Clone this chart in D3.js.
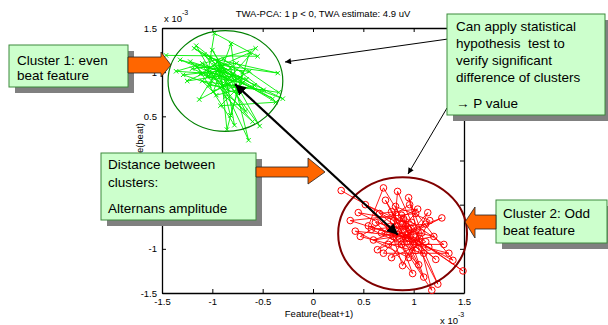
<!DOCTYPE html>
<html><head><meta charset="utf-8">
<script src="https://cdn.jsdelivr.net/npm/d3@7"></script>
<style>body{margin:0;background:#fff}svg{display:block}text{font-family:Arial,"Liberation Sans",sans-serif}</style>
</head><body><svg id="c" width="608" height="325"></svg>
<script>
// ---- data (units of 1e-3) ----
const xTicks = [-1.5,-1,-0.5,0,0.5,1,1.5];
const yTicks = [-1.5,-1,-0.5,0,0.5,1,1.5];
const xTickLabels = ["-1.5","-1","-0.5","0","0.5","1","1.5"];
const yTickLabels = ["-1.5","-1","-0.5","0","0.5","1","1.5"];
const evenX = [-1.46,-0.55,-0.98,-1.05,-0.70,-1.18,-0.82,-0.64,-0.95,-1.36,-0.57,-0.90,-1.10,-0.40,-0.88,-1.29,-0.75,-0.815,-0.99,-0.63,-1.15,-0.78,-0.86,-1.02,-0.35,-0.92,-1.13,-0.72,-1.22,-0.67,-0.95,-0.84,-1.06,-0.30,-0.80,-1.16,-0.87,-0.60,-0.97,-1.20,-0.76,-0.34,-0.85,-1.08,-0.70,-0.855,-0.91,-1.25,-0.63,-0.82,-0.94,-1.03,-0.49,-0.89,-1.12,-0.74,-0.53,-0.98,-0.80,-1.32,-0.66,-0.92,-0.37,-0.87,-1.00,-0.78,-1.10,-0.96,-0.58,-0.90,-1.04,-0.81];
const evenY = [1.19,1.18,1.44,0.95,0.88,1.27,1.05,0.23,0.98,1.01,1.27,0.84,1.10,0.70,1.02,0.97,0.76,1.32,0.78,1.01,1.06,0.40,0.92,1.16,0.99,1.08,0.69,0.94,1.12,0.56,1.12,0.80,1.02,0.70,0.98,1.30,0.72,0.44,0.93,1.04,1.10,0.77,0.86,1.20,1.00,0.35,0.96,0.90,1.22,0.51,1.04,0.85,0.80,1.15,0.98,0.82,0.39,1.08,0.90,1.14,0.92,0.62,0.66,1.00,1.25,0.84,0.90,0.74,0.85,1.06,0.96,0.95];
const oddX = [0.28,0.95,0.70,0.55,1.05,0.45,0.98,0.84,0.80,1.28,0.64,1.02,0.37,0.92,1.14,0.89,0.76,1.10,0.47,0.96,1.39,0.85,0.60,1.08,0.95,1.18,0.88,0.52,1.00,1.24,0.90,0.68,1.15,1.49,0.97,0.78,1.05,0.62,1.20,0.93,0.72,1.02,0.58,1.12,0.86,0.99,0.75,1.30,0.88,1.06,0.42,0.95,1.16,0.82,1.00,1.35,0.70,0.92,1.10,0.80,1.04,0.66,1.22,0.94,0.78,1.12,0.89];
const oddY = [-0.34,-0.78,-0.31,-0.74,-0.92,-0.59,-0.70,-0.35,-0.86,-0.65,-1.01,-0.60,-0.68,-0.88,-0.59,-1.19,-0.75,-1.05,-0.86,-0.50,-1.13,-0.80,-0.90,-0.82,-0.42,-1.47,-0.95,-0.50,-0.75,-1.40,-0.66,-0.82,-0.98,-1.25,-0.85,-0.58,-1.18,-0.70,-0.86,-0.92,-0.45,-1.02,-0.78,-0.72,-0.88,-1.28,-0.95,-0.95,-0.62,-0.88,-0.80,-1.10,-0.68,-0.52,-0.95,-1.05,-1.05,-0.74,-1.32,-0.68,-0.55,-0.60,-1.12,-0.84,-1.10,-0.92,-0.72];
const clusterCenters = [[-0.87,0.90],[0.89,-0.83]];
const clusterRadii = [0.57,0.64];
const meanFrom = [-0.775,0.864], meanTo = [0.843,-0.84];
const titleText = "TWA-PCA: 1 p < 0, TWA estimate: 4.9 uV";

const svg = d3.select("#c");
const x = d3.scaleLinear().domain([-1.5,1.5]).range([162,464]);
const y = d3.scaleLinear().domain([-1.5,1.5]).range([293,28]);

svg.append("rect").attr("width",608).attr("height",325).attr("fill","#fff");

// axes (ticks inward)
function styleAxis(g){g.selectAll("path").attr("stroke","#000").attr("stroke-width",1.3);g.selectAll("line").attr("stroke","#000");g.selectAll("text").attr("font-size","9.5px").attr("fill","#000").attr("font-family","Arial, Liberation Sans, sans-serif");}
svg.append("g").attr("transform","translate(0,293)")
  .call(d3.axisBottom(x).tickValues(xTicks).tickFormat((d,i)=>xTickLabels[i]).tickSizeInner(-4).tickSizeOuter(0).tickPadding(5))
  .call(styleAxis);
svg.append("g").attr("transform","translate(0,28)")
  .call(d3.axisTop(x).tickValues(xTicks).tickFormat("").tickSizeInner(-4).tickSizeOuter(0)).call(styleAxis);
svg.append("g").attr("transform","translate(162,0)")
  .call(d3.axisLeft(y).tickValues(yTicks).tickFormat((d,i)=>yTickLabels[i]).tickSizeInner(-4).tickSizeOuter(0).tickPadding(5))
  .call(styleAxis);
svg.append("g").attr("transform","translate(464,0)")
  .call(d3.axisRight(y).tickValues(yTicks).tickFormat("").tickSizeInner(-4).tickSizeOuter(0)).call(styleAxis);

// title, labels
svg.append("text").attr("x",323).attr("y",17).attr("text-anchor","middle").attr("font-size","9.5px").text(titleText);
svg.append("text").attr("x",319).attr("y",317).attr("text-anchor","middle").attr("font-size","9.5px").text("Feature(beat+1)");
svg.append("text").attr("transform","translate(143,123) rotate(-90)").attr("text-anchor","end").attr("font-size","9.5px").text("Feature(beat)");
const e1 = svg.append("text").attr("x",164).attr("y",22).attr("font-size","9.5px");
e1.append("tspan").text("x 10"); e1.append("tspan").attr("dy",-7).attr("font-size","7px").text("-3");
const e2 = svg.append("text").attr("x",440).attr("y",324).attr("font-size","9.5px");
e2.append("tspan").text("x 10"); e2.append("tspan").attr("dy",-7).attr("font-size","7px").text("-3");

// series
const even = evenX.map((v,i)=>[v,evenY[i]]);
const odd = oddX.map((v,i)=>[v,oddY[i]]);
const line = d3.line().x(d=>x(d[0])).y(d=>y(d[1]));
svg.append("path").attr("d",line(even)).attr("fill","none").attr("stroke","#00ee00").attr("stroke-width",0.9);
svg.append("g").selectAll("path").data(even).join("path")
  .attr("d",d=>{const px=x(d[0]),py=y(d[1]),s=2.2;return `M${px-s},${py-s}L${px+s},${py+s}M${px-s},${py+s}L${px+s},${py-s}`;})
  .attr("stroke","#00ee00").attr("stroke-width",1);
svg.append("path").attr("d",line(odd)).attr("fill","none").attr("stroke","#ff0000").attr("stroke-width",0.9);
svg.append("g").selectAll("circle").data(odd).join("circle")
  .attr("cx",d=>x(d[0])).attr("cy",d=>y(d[1])).attr("r",3.3).attr("fill","none").attr("stroke","#ff0000").attr("stroke-width",1);

// cluster circles
svg.append("ellipse").attr("cx",x(clusterCenters[0][0])).attr("cy",y(clusterCenters[0][1]))
  .attr("rx",x(clusterRadii[0])-x(0)).attr("ry",y(0)-y(clusterRadii[0])).attr("fill","none").attr("stroke","#008000").attr("stroke-width",1.2);
svg.append("ellipse").attr("cx",x(clusterCenters[1][0])).attr("cy",y(clusterCenters[1][1]))
  .attr("rx",x(clusterRadii[1])-x(0)).attr("ry",y(0)-y(clusterRadii[1])).attr("fill","none").attr("stroke","#800000").attr("stroke-width",2);

// markers
const defs = svg.append("defs");
defs.append("marker").attr("id","ah").attr("viewBox","0 0 10 10").attr("refX",10).attr("refY",5)
  .attr("markerWidth",5).attr("markerHeight",5).attr("markerUnits","strokeWidth").attr("orient","auto-start-reverse")
  .append("path").attr("d","M0,0L10,5L0,10z").attr("fill","#000");
defs.append("marker").attr("id","ahs").attr("viewBox","0 0 10 10").attr("refX",10).attr("refY",5)
  .attr("markerWidth",8).attr("markerHeight",6).attr("markerUnits","strokeWidth").attr("orient","auto")
  .append("path").attr("d","M0,0L10,5L0,10z").attr("fill","#000");

// distance arrow
svg.append("line").attr("x1",x(meanFrom[0])).attr("y1",y(meanFrom[1])).attr("x2",x(meanTo[0])).attr("y2",y(meanTo[1]))
  .attr("stroke","#000").attr("stroke-width",2.2).attr("marker-start","url(#ah)").attr("marker-end","url(#ah)");
// thin arrows from note box
svg.append("line").attr("x1",448).attr("y1",39).attr("x2",285).attr("y2",62).attr("stroke","#000").attr("stroke-width",1).attr("marker-end","url(#ahs)");
svg.append("line").attr("x1",447).attr("y1",108).attr("x2",408).attr("y2",174).attr("stroke","#000").attr("stroke-width",1).attr("marker-end","url(#ahs)");

// callout boxes
function box(x0,y0,w,h,lines){
  svg.append("rect").attr("x",x0+6).attr("y",y0+6).attr("width",w).attr("height",h).attr("fill","#808080");
  svg.append("rect").attr("x",x0).attr("y",y0).attr("width",w).attr("height",h).attr("fill","#ccffcc").attr("stroke","#3d8a3d").attr("stroke-width",1);
  lines.forEach(l=>svg.append("text").attr("x",l[0]).attr("y",l[1]).attr("font-size","13.5px").attr("fill","#000").attr("xml:space","preserve").text(l[2]));
}
function orange(pts){
  svg.append("polygon").attr("points",pts.map(p=>p.join(",")).join(" ")).attr("fill","#ff6600").attr("stroke","#222").attr("stroke-width",0.8);
}
box(9,45,119,42,[[17,65,"Cluster 1: even"],[17,80,"beat feature"]]);
orange([[128,57],[161,57],[161,52],[171,65],[161,77],[161,73],[128,73]]);
box(447,14,158,101,[[456,31,"Can apply statistical"],[456,48,"hypothesis  test to"],[456,65,"verify significant"],[456,82,"difference of clusters"],[456,108,"\u2192 P value"]]);
box(101,153,155,67,[[108,169,"Distance between"],[108,187,"clusters:"],[108,213,"Alternans amplitude"]]);
orange([[256,167],[308,167],[308,158],[325,172],[308,184],[308,177],[256,177]]);
box(496,200,111,43,[[503,218,"Cluster 2: Odd"],[503,235,"beat feature"]]);
orange([[496,215],[475,215],[475,207],[465,222],[475,238],[475,229],[496,229]]);
</script></body></html>
